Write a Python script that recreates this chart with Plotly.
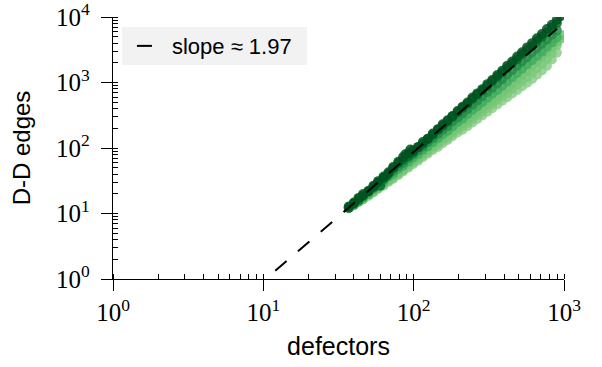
import plotly.graph_objects as go

# ---- data (defectors vs D-D edges) ----
s1_x = [37, 40, 43, 46, 50, 54, 58, 63, 68, 73, 79, 85, 88, 92, 95, 99, 107, 115, 124, 134, 145, 156, 168, 181, 196, 211, 228, 246, 265, 286, 309, 333, 360, 388, 419, 452, 488, 526, 568, 613, 661, 713, 770, 830, 896, 950]
s1_y = [12.8, 14.3, 17.3, 18.9, 21.7, 26.5, 31.2, 35.1, 42.7, 51.4, 61.5, 72.6, 80.5, 83.0, 95.0, 91.7, 104, 123, 139, 166, 194, 230, 265, 307, 368, 426, 495, 589, 682, 792, 944, 1094, 1305, 1513, 1804, 2094, 2489, 2891, 3435, 3989, 4741, 5507, 6547, 7603, 9035, 10380]

s2_x = [37, 40, 43, 46, 50, 54, 58, 60, 63, 66, 68, 73, 79, 85, 92, 99, 107, 115, 124, 134, 145, 156, 168, 181, 196, 211, 228, 246, 265, 286, 309, 333, 360, 388, 419, 452, 488, 526, 568, 613, 661, 713, 770, 830, 896]
s2_y = [12.3, 14.7, 16.1, 19.8, 22.2, 25.3, 29.8, 26.5, 36.7, 37.5, 40.7, 49.1, 58.8, 66.2, 75.7, 85.5, 102, 115, 136, 159, 190, 219, 253, 301, 352, 407, 473, 562, 651, 757, 881, 1045, 1218, 1413, 1683, 1954, 2270, 2698, 3134, 3639, 4324, 5022, 5833, 6934, 8053]

s3_x = [37, 40, 43, 46, 50, 54, 58, 63, 68, 73, 79, 85, 92, 99, 107, 115, 124, 134, 145, 156, 168, 181, 196, 211, 228, 246, 265, 286, 309, 333, 360, 388, 419, 452, 488, 526, 568, 613, 661, 713, 770, 830, 896]
s3_y = [12.0, 13.7, 16.5, 18.0, 21.7, 24.7, 29.1, 32.7, 39.8, 44.8, 52.4, 59.0, 70.6, 79.8, 92.6, 105, 124, 141, 165, 191, 216, 256, 292, 338, 393, 457, 530, 615, 716, 830, 968, 1122, 1337, 1552, 1803, 2094, 2432, 2890, 3356, 3898, 4528, 5383, 6251]

s4_x = [40, 43, 46, 50, 54, 58, 63, 68, 73, 79, 85, 92, 99, 107, 115, 124, 134, 145, 156, 168, 181, 196, 211, 228, 246, 265, 286, 309, 333, 360, 388, 419, 452, 488, 526, 568, 613, 661, 713, 770, 830, 896]
s4_y = [13.4, 15.1, 17.6, 19.8, 23.6, 26.5, 30.6, 36.3, 40.0, 47.8, 53.8, 61.5, 71.1, 80.7, 93.3, 106, 123, 141, 162, 184, 213, 249, 281, 327, 380, 431, 500, 582, 674, 769, 891, 1038, 1205, 1400, 1626, 1888, 2193, 2547, 2958, 3514, 4080, 4851]

s5_x = [43, 46, 50, 54, 58, 63, 68, 73, 79, 85, 92, 99, 107, 115, 124, 134, 145, 156, 168, 181, 196, 211, 228, 246, 265, 286, 309, 333, 360, 388, 419, 452, 488, 526, 568, 613, 661, 713, 770, 830, 896, 950, 1000]
s5_y = [15.1, 16.4, 19.8, 22.0, 24.8, 29.2, 32.3, 37.2, 42.5, 48.0, 56.1, 63.4, 71.9, 83.1, 94.2, 107, 122, 142, 160, 181, 207, 239, 272, 309, 358, 407, 473, 536, 625, 708, 824, 957, 1112, 1291, 1500, 1781, 2068, 2461, 2926, 3477, 4130, 4635, 5246]

s6_x = [46, 50, 54, 58, 63, 68, 73, 79, 85, 92, 99, 107, 115, 124, 134, 145, 156, 168, 181, 196, 211, 228, 246, 265, 286, 309, 333, 360, 388, 419, 452, 488, 526, 568, 613, 661, 713, 770, 830, 896]
s6_y = [16.6, 19.4, 21.5, 24.6, 27.9, 31.9, 35.5, 40.1, 45.9, 52.2, 59.9, 68.8, 77.6, 86.9, 100, 114, 129, 144, 165, 191, 213, 240, 276, 318, 358, 408, 466, 545, 610, 695, 806, 931, 1064, 1210, 1417, 1660, 1935, 2290, 2800, 3700]

s7_x = [46, 50, 54, 58, 63, 68, 73, 79, 85, 92, 99, 107, 115, 124, 134, 145, 156, 168, 181, 196, 211, 228, 246, 265, 286, 309, 333, 360, 388, 419, 452, 488, 526, 568, 613, 661, 713, 770, 830, 896]
s7_y = [16.8, 18.5, 21.0, 23.7, 26.6, 30.2, 33.8, 38.8, 43.8, 50.0, 56.5, 64.1, 72.4, 82.1, 93.4, 104, 118, 133, 151, 172, 190, 216, 246, 278, 315, 359, 405, 463, 525, 597, 678, 771, 877, 993, 1128, 1310, 1521, 1806, 2250, 2850]

series_colors = ["#8ccf8a", "#7ec97d", "#74c476", "#41ab5d", "#238b45", "#006d2c", "#00521f"]

fit_slope = 1.97
fit_prefactor = 0.01
fit_x = [12, 900]
fit_y = [fit_prefactor * v ** fit_slope for v in fit_x]

tick_vals = [1, 10, 100, 1000, 10000]
tick_text = ["10<sup>0</sup>", "10<sup>1</sup>", "10<sup>2</sup>", "10<sup>3</sup>", "10<sup>4</sup>"]

# ---- figure ----
fig = go.Figure()
series = [(s7_x, s7_y), (s6_x, s6_y), (s5_x, s5_y), (s4_x, s4_y), (s3_x, s3_y), (s2_x, s2_y), (s1_x, s1_y)]
for (sx, sy), col in zip(series, series_colors):
    fig.add_trace(go.Scatter(
        x=sx, y=sy, mode="markers", showlegend=False, hoverinfo="skip",
        marker=dict(size=10, color=col, opacity=0.85, line=dict(width=0)),
    ))

fig.add_trace(go.Scatter(
    x=fit_x, y=fit_y, mode="lines", name="slope \u2248 1.97",
    line=dict(color="black", width=2, dash="15px,15px"),
))

tickfont = dict(family="Liberation Serif", size=25, color="black")
minor = dict(ticks="inside", ticklen=5, tickwidth=1, tickcolor="black", dtick="D1", showgrid=False)

fig.update_layout(
    width=602, height=367,
    margin=dict(l=113, r=38, t=17, b=88, autoexpand=False),
    plot_bgcolor="white", paper_bgcolor="white",
    legend=dict(x=0.042, y=0.889, xanchor="left", yanchor="middle",
                bgcolor="rgba(0,0,0,0)", borderwidth=0,
                font=dict(family="Liberation Sans", size=22, color="black")),
    shapes=[dict(type="rect", xref="paper", yref="paper",
                 x0=0.020, x1=0.430, y0=0.817, y1=0.962,
                 fillcolor="#f2f2f2", line=dict(width=0), layer="below")],
    xaxis=dict(type="log", range=[0, 3], tickmode="array", automargin=False,
               tickvals=tick_vals[:4], ticktext=tick_text[:4], ticklabeloverflow="allow",
               ticks="outside", ticklen=11, tickwidth=1.3, tickcolor="black",
               showline=True, linecolor="black", linewidth=1.3,
               showgrid=False, zeroline=False, tickfont=tickfont, minor=minor,
               title=dict(text="defectors", font=dict(family="Liberation Sans", size=25, color="black"), standoff=12)),
    yaxis=dict(type="log", range=[0, 4], tickmode="array", automargin=False,
               tickvals=tick_vals, ticktext=tick_text, ticklabelstandoff=6, ticklabeloverflow="allow",
               ticks="outside", ticklen=11, tickwidth=1.3, tickcolor="black",
               showline=True, linecolor="black", linewidth=1.3,
               showgrid=False, zeroline=False, tickfont=tickfont, minor=minor,
               title=dict(text="D-D edges", font=dict(family="Liberation Sans", size=24, color="black"), standoff=18)),
)

fig.write_html("out.html")
